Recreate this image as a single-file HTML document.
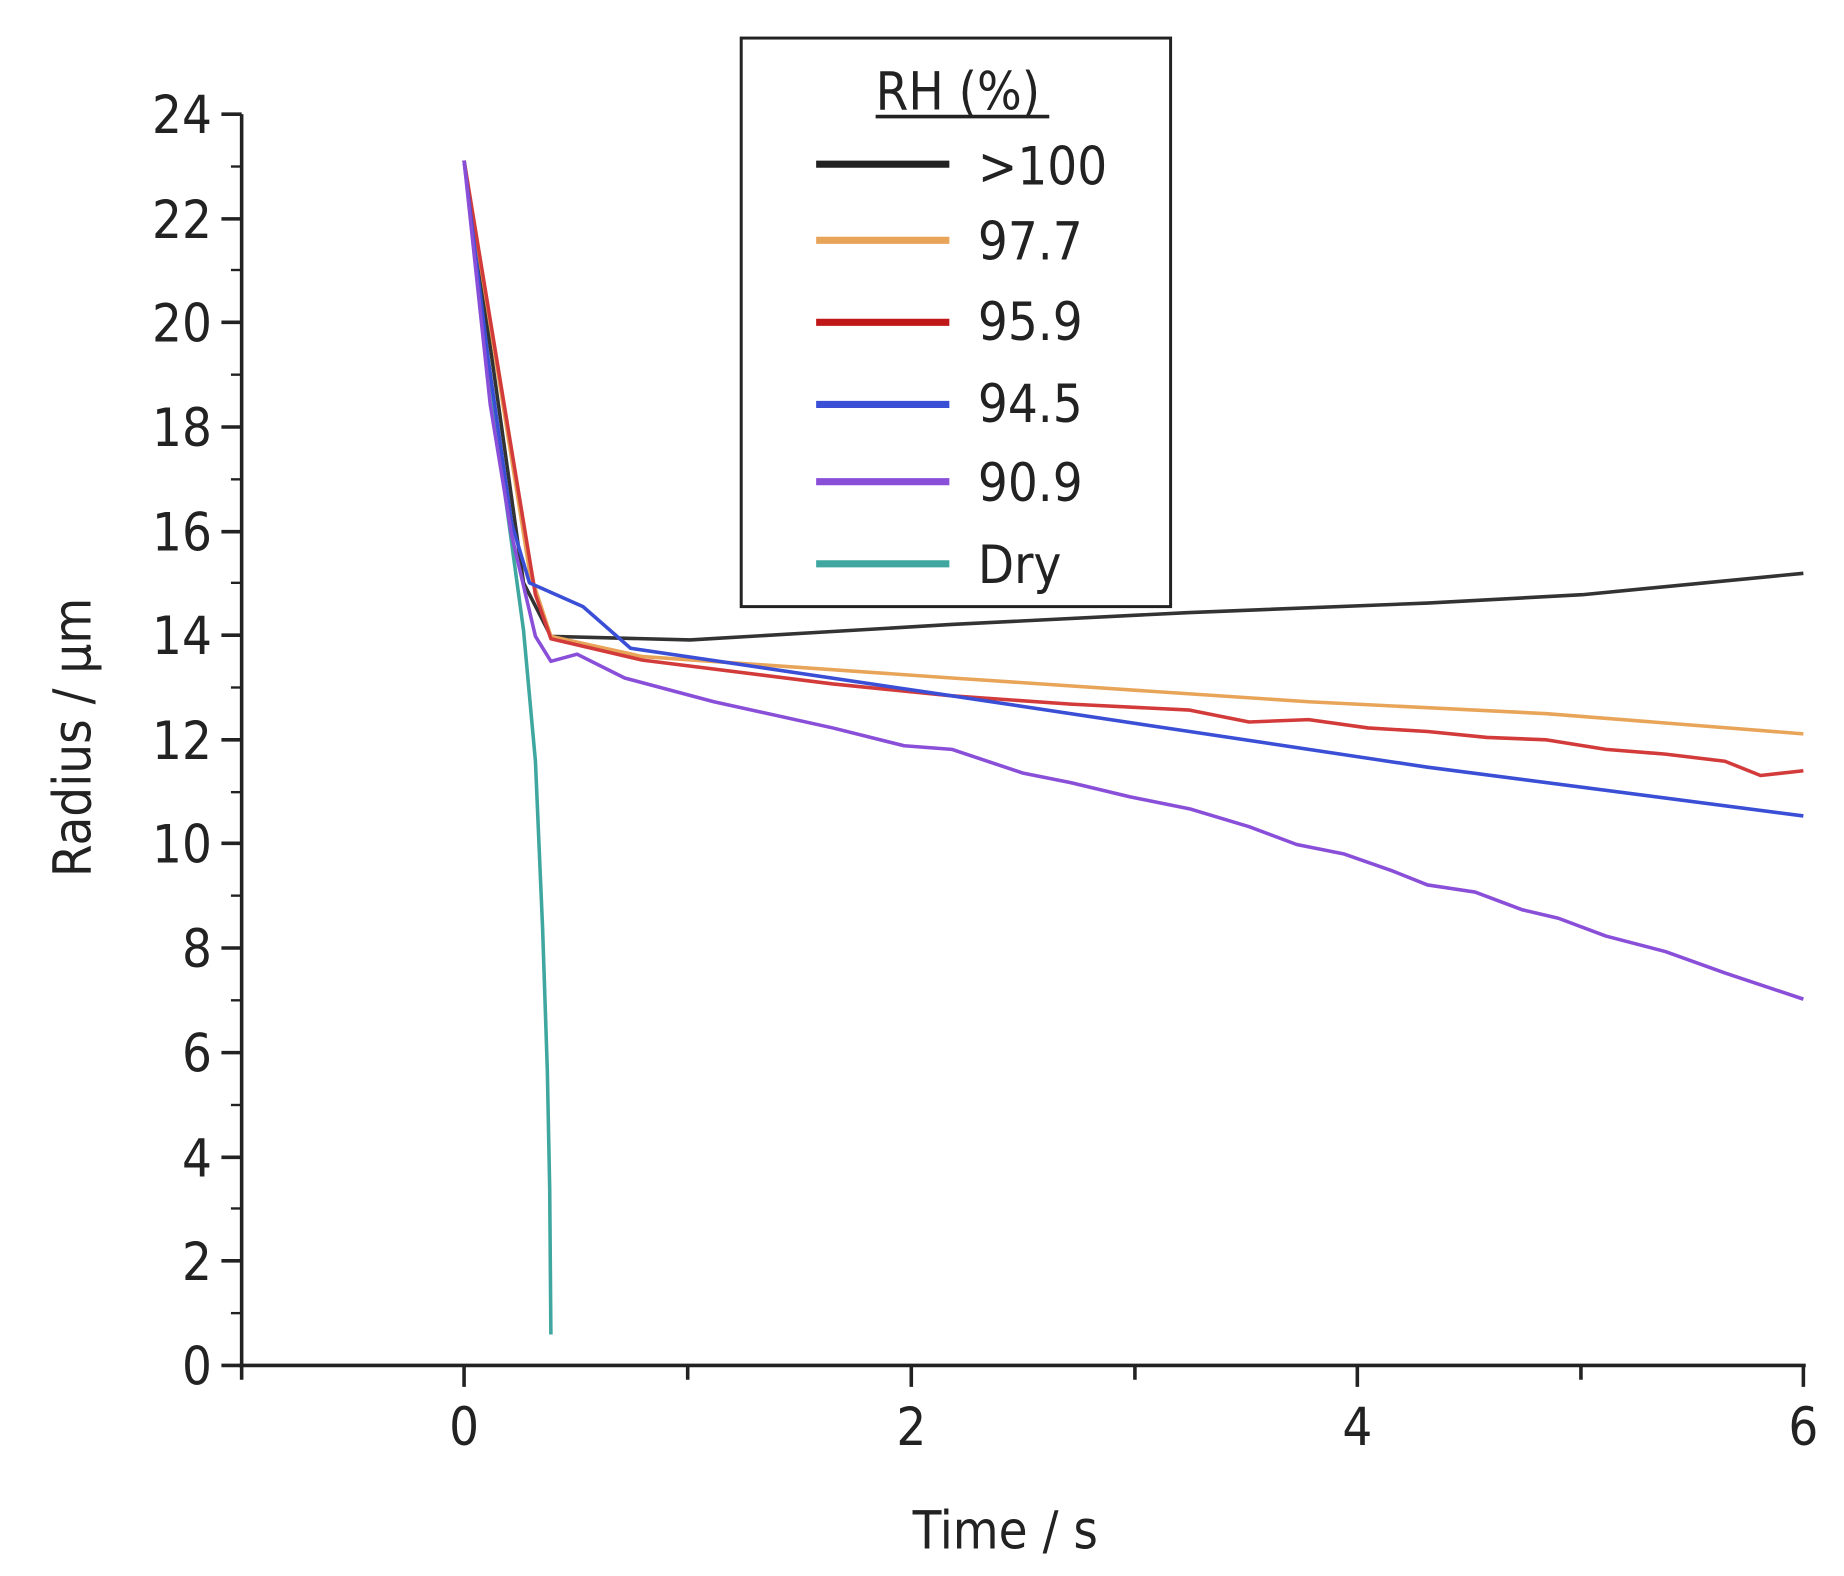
<!DOCTYPE html>
<html><head><meta charset="utf-8"><style>html,body{margin:0;padding:0;background:#fff}svg{display:block}</style></head>
<body>
<svg width="1844" height="1576" viewBox="0 0 1550 1325" xmlns="http://www.w3.org/2000/svg" font-family="'DejaVu Sans Condensed','Liberation Sans',sans-serif" fill="#222">
<g stroke="#222" stroke-width="3">
<line x1="203" y1="96" x2="203" y2="1150"/>
<line x1="201" y1="1148" x2="1518" y2="1148"/>
<!-- y ticks -->
<g id="yt">
<line x1="186" y1="1148" x2="203" y2="1148"/><line x1="186" y1="1060" x2="203" y2="1060"/><line x1="186" y1="973" x2="203" y2="973"/><line x1="186" y1="885" x2="203" y2="885"/><line x1="186" y1="797" x2="203" y2="797"/><line x1="186" y1="709" x2="203" y2="709"/><line x1="186" y1="622" x2="203" y2="622"/><line x1="186" y1="534" x2="203" y2="534"/><line x1="186" y1="447" x2="203" y2="447"/><line x1="186" y1="359" x2="203" y2="359"/><line x1="186" y1="271" x2="203" y2="271"/><line x1="186" y1="184" x2="203" y2="184"/><line x1="186" y1="96" x2="203" y2="96"/>
</g>
<g stroke-width="2">
<line x1="194" y1="1104" x2="203" y2="1104"/><line x1="194" y1="1016" x2="203" y2="1016"/><line x1="194" y1="929" x2="203" y2="929"/><line x1="194" y1="841" x2="203" y2="841"/><line x1="194" y1="753" x2="203" y2="753"/><line x1="194" y1="666" x2="203" y2="666"/><line x1="194" y1="578" x2="203" y2="578"/><line x1="194" y1="490" x2="203" y2="490"/><line x1="194" y1="403" x2="203" y2="403"/><line x1="194" y1="315" x2="203" y2="315"/><line x1="194" y1="227" x2="203" y2="227"/><line x1="194" y1="140" x2="203" y2="140"/>
</g>
<line x1="390" y1="1148" x2="390" y2="1166"/><line x1="766" y1="1148" x2="766" y2="1166"/><line x1="1141" y1="1148" x2="1141" y2="1166"/><line x1="1516" y1="1148" x2="1516" y2="1166"/>
<line x1="578" y1="1148" x2="578" y2="1160"/><line x1="954" y1="1148" x2="954" y2="1160"/><line x1="1329" y1="1148" x2="1329" y2="1160"/><line x1="203" y1="1148" x2="203" y2="1160"/>
</g>
<g font-size="44" text-anchor="end">
<text x="178" y="1164">0</text><text x="178" y="1076">2</text><text x="178" y="989">4</text><text x="178" y="901">6</text><text x="178" y="813">8</text><text x="178" y="725">10</text><text x="178" y="638">12</text><text x="178" y="550">14</text><text x="178" y="463">16</text><text x="178" y="375">18</text><text x="178" y="287">20</text><text x="178" y="200">22</text><text x="178" y="112">24</text>
</g>
<g font-size="44" text-anchor="middle">
<text x="390" y="1215">0</text><text x="766" y="1215">2</text><text x="1141" y="1215">4</text><text x="1516" y="1215">6</text>
<text x="845" y="1302">Time / s</text>
<text transform="translate(76,620) rotate(-90)">Radius / µm</text>
</g>
<g fill="none" stroke-width="3" stroke-linejoin="round">
<polyline stroke="#3fa7a0" points="390,135 410,300 425,420 440,530 450,640 456,780 460,900 462,1000 463,1122"/>
<polyline stroke="#333" points="390,135 440,490 463,535 580,538 800,525 1000,515 1200,507 1330,500 1516,482"/>
<polyline stroke="#e8a55a" points="390,135 445,480 463,535 540,552 800,570 1100,590 1300,600 1516,617"/>
<polyline stroke="#d33b3b" points="390,135 450,500 463,537 540,555 700,575 800,585 900,592 1000,597 1050,607 1100,605 1150,612 1200,615 1250,620 1300,622 1350,630 1400,634 1450,640 1480,652 1516,648"/>
<polyline stroke="#3a4fd6" points="390,135 410,300 430,440 445,490 490,510 530,545 800,585 1000,615 1200,645 1516,686"/>
<polyline stroke="#8a4fd8" points="390,135 412,340 430,450 450,535 463,556 485,550 525,570 600,590 700,612 760,627 800,630 860,650 900,658 950,670 1000,680 1050,695 1090,710 1130,718 1170,732 1200,744 1240,750 1280,765 1310,772 1350,787 1400,800 1450,818 1516,840"/>
</g>
<rect x="623" y="32" width="361" height="478" fill="#fff" stroke="#222" stroke-width="2.5"/>
<g font-size="44">
<text x="736" y="92">RH (%)</text>
<line x1="736" y1="98" x2="882" y2="98" stroke="#222" stroke-width="3"/>
<text x="822" y="155">&gt;100</text><text x="822" y="218">97.7</text><text x="822" y="286">95.9</text><text x="822" y="355">94.5</text><text x="822" y="421">90.9</text><text x="822" y="490">Dry</text>
</g>
<g stroke-width="6">
<line x1="686" y1="138" x2="798" y2="138" stroke="#222"/>
<line x1="686" y1="202" x2="798" y2="202" stroke="#e8a55a"/>
<line x1="686" y1="271" x2="798" y2="271" stroke="#c01818"/>
<line x1="686" y1="340" x2="798" y2="340" stroke="#3a4fd6"/>
<line x1="686" y1="405" x2="798" y2="405" stroke="#8a4fd8"/>
<line x1="686" y1="474" x2="798" y2="474" stroke="#3fa7a0"/>
</g>
</svg>
</body></html>
